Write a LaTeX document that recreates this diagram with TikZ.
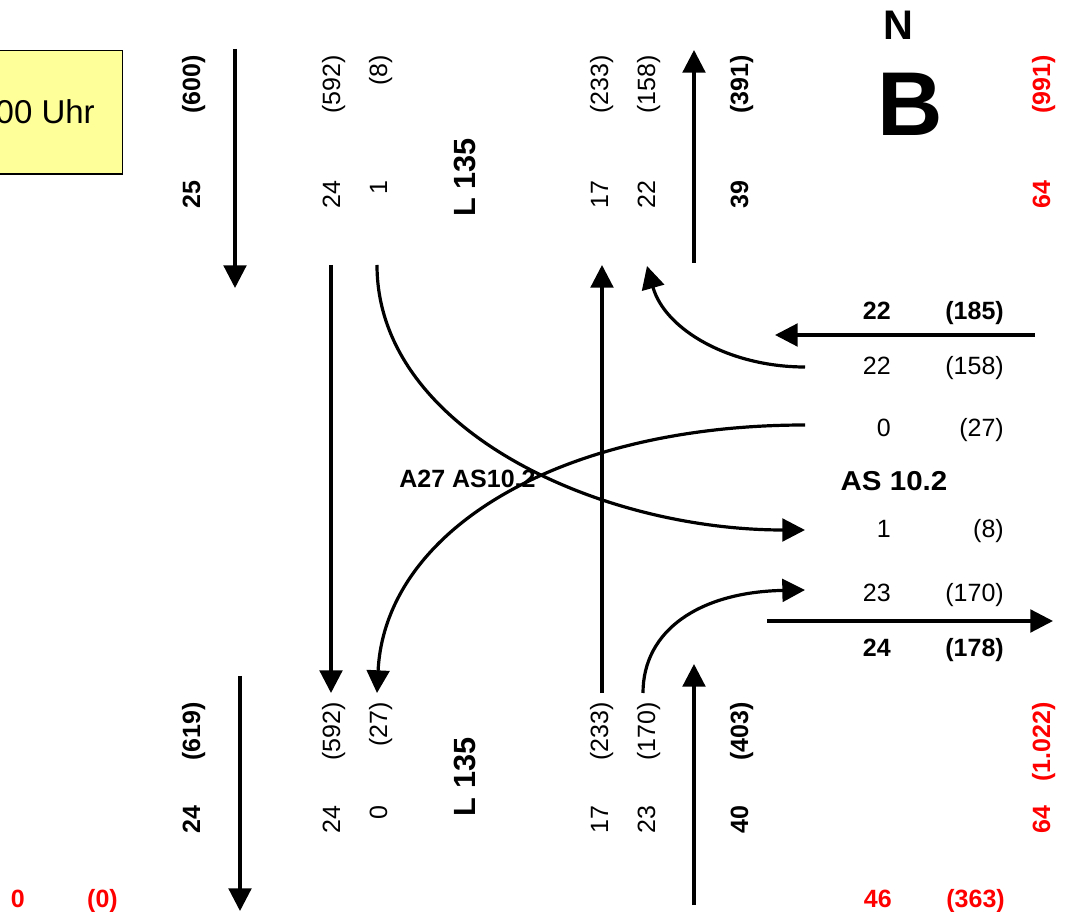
\documentclass[tikz,border=0pt]{standalone}
\usepackage{fontspec}
\setmainfont{Liberation Sans}
\usetikzlibrary{arrows.meta}
\definecolor{notefill}{HTML}{FFFF99}
\begin{document}
\begin{tikzpicture}[x=0.75pt,y=-0.75pt,
  flow/.style={line width=2.4pt,-{Triangle[length=17pt,width=17pt]}},
  fnt/.style={font=\fontsize{18.75pt}{22pt}\selectfont},
  fntb/.style={font=\fontsize{18.75pt}{22pt}\selectfont\bfseries},
  rot/.style={rotate=90,anchor=base east,inner sep=0pt,fnt},
  rotb/.style={rotate=90,anchor=base east,inner sep=0pt,fntb},
  hor/.style={anchor=base east,inner sep=0pt,fnt},
  horb/.style={anchor=base east,inner sep=0pt,fntb},
  redtext/.style={text=red},
  road/.style={rotate=90,anchor=base,inner sep=0pt,font=\fontsize{23pt}{26pt}\selectfont\bfseries}
]
\useasboundingbox (0,0) rectangle (1068,912);

% time box
\draw[fill=notefill,line width=0.8pt] (-40,50.7) rectangle (122.7,174);
\node[anchor=base east,inner sep=0pt,font=\fontsize{24.75pt}{28pt}\selectfont] (uhr) at (95,124) {00 Uhr};

% north sign
\node[inner sep=0pt,font=\fontsize{31pt}{34pt}\selectfont\bfseries] (north) at (898.5,25.5) {N};
\node[inner sep=0pt,font=\fontsize{68pt}{72pt}\selectfont\bfseries] (bsign) at (910.5,104) {B};

% top labels
\node[rotb] (t600) at (200,55) {(600)};
\node[rotb] (t25) at (200,180) {25};
\node[rot] (t592) at (340,55) {(592)};
\node[rot] (t24) at (340,180) {24};
\node[rot] (t8) at (387,55) {(8)};
\node[rot] (t1) at (387,180) {1};
\node[road] (ltop) at (475,177.5) {L 135};
\node[rot] (t233) at (608,55) {(233)};
\node[rot] (t17) at (608,180) {17};
\node[rot] (t158) at (655,55) {(158)};
\node[rot] (t22) at (655,180) {22};
\node[rotb] (t391) at (748,55) {(391)};
\node[rotb] (t39) at (748,180) {39};
\node[rotb,redtext] (t991) at (1050,55) {(991)};
\node[rotb,redtext] (t64) at (1050,180) {64};

% bottom labels
\node[rotb] (b619) at (200,702) {(619)};
\node[rotb] (b24) at (200,805) {24};
\node[rot] (b592) at (340,702) {(592)};
\node[rot] (b24b) at (340,805) {24};
\node[rot] (b27) at (387,702) {(27)};
\node[rot] (b0) at (387,805) {0};
\node[road] (lbot) at (475,777) {L 135};
\node[rot] (b233) at (608,702) {(233)};
\node[rot] (b17) at (608,805) {17};
\node[rot] (b170) at (655,702) {(170)};
\node[rot] (b23) at (655,805) {23};
\node[rotb] (b403) at (748,702) {(403)};
\node[rotb] (b40) at (748,805) {40};
\node[rotb,redtext] (b1022) at (1050,702) {(1.022)};
\node[rotb,redtext] (b64) at (1050,805) {64};

% right side labels
\node[horb] (r22a) at (891,320) {22};
\node[horb] (r185) at (1004,320) {(185)};
\node[hor] (r22b) at (891,375) {22};
\node[hor] (r158) at (1004,375) {(158)};
\node[hor] (r0) at (891,437) {0};
\node[hor] (r27) at (1004,437) {(27)};
\node[inner sep=0pt,xscale=1.08,font=\fontsize{20.5pt}{24pt}\selectfont\bfseries] (as) at (894,481) {AS 10.2};
\node[hor] (r1) at (891,538) {1};
\node[hor] (r8) at (1004,538) {(8)};
\node[hor] (r23) at (891,602) {23};
\node[hor] (r170) at (1004,602) {(170)};
\node[horb] (r24) at (891,657) {24};
\node[horb] (r178) at (1004,657) {(178)};

\node[inner sep=0pt,font=\fontsize{18.75pt}{22pt}\selectfont\bfseries] (ramp) at (467.5,479) {A27 AS10.2};

% red totals at bottom
\node[horb,redtext] (s0) at (25,907) {0};
\node[horb,redtext] (s0b) at (118,907) {(0)};
\node[horb,redtext] (s46) at (892,907) {46};
\node[horb,redtext] (s363) at (1005,907) {(363)};

% connector end points
\coordinate (a1s) at (235,49);   \coordinate (a1e) at (235,288);
\coordinate (a2s) at (694,263);  \coordinate (a2e) at (694,50);
\coordinate (a3s) at (240,676);  \coordinate (a3e) at (240,911);
\coordinate (a4s) at (694,905);  \coordinate (a4e) at (694,664);
\coordinate (a5s) at (1035,335); \coordinate (a5e) at (775,335);
\coordinate (a6s) at (767,621);  \coordinate (a6e) at (1053,621);
\coordinate (a7s) at (331,265);  \coordinate (a7e) at (331,693);
\coordinate (a8s) at (602,693);  \coordinate (a8e) at (602,265);
\coordinate (c1s) at (805,367);  \coordinate (c1e) at (647,266);
\coordinate (c2s) at (805,425);  \coordinate (c2e) at (377,693);
\coordinate (c3s) at (377,265);  \coordinate (c3e) at (805,530);
\coordinate (c4s) at (643,693);  \coordinate (c4e) at (805,590);

% straight arrows
\draw[flow] (a1s) -- (a1e);
\draw[flow] (a2s) -- (a2e);
\draw[flow] (a3s) -- (a3e);
\draw[flow] (a4s) -- (a4e);
\draw[flow] (a5s) -- (a5e);
\draw[flow] (a6s) -- (a6e);
\draw[flow] (a7s) -- (a7e);
\draw[flow] (a8s) -- (a8e);

% turning arrows
\draw[flow] (c1s) .. controls (730,367) and (665,330) .. (c1e);
\draw[flow] (c2s) .. controls (560,425) and (385,530) .. (c2e);
\draw[flow] (c3s) .. controls (377,430) and (600,530) .. (c3e);
\draw[flow] (c4s) .. controls (643,630) and (700,592) .. (c4e);
\end{tikzpicture}
\end{document}
